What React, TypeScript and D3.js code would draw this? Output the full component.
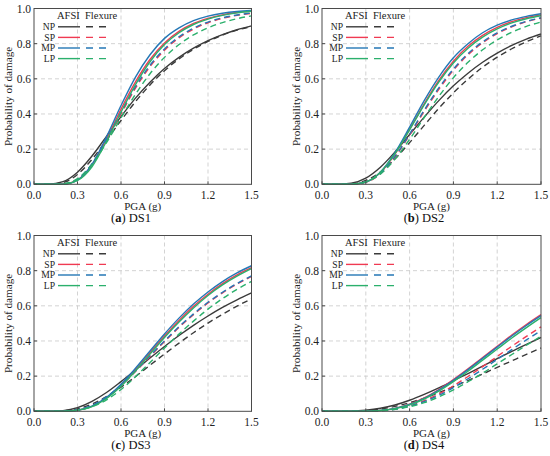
import * as d3 from 'd3';
import React from 'react';

// PGA sample points (g)
const pga = [0, 0.1, 0.2, 0.3, 0.4, 0.5, 0.6, 0.7, 0.8, 0.9, 1.0, 1.1, 1.2, 1.3, 1.4, 1.5];

const xTicks = [0, 0.3, 0.6, 0.9, 1.2, 1.5];
const yTicks = [0, 0.2, 0.4, 0.6, 0.8, 1.0];

const seriesNames = ['NP', 'SP', 'MP', 'LP'];
const seriesColors = ['#3b3b3b', '#f03a52', '#2477b5', '#2bb06c'];

// DS1
const ds1NpAfsi = [0, 0.0004, 0.015, 0.069, 0.161, 0.273, 0.385, 0.49, 0.581, 0.659, 0.722, 0.774, 0.817, 0.851, 0.879, 0.901];
const ds1NpFlex = [0, 0.0002, 0.01, 0.056, 0.142, 0.25, 0.363, 0.47, 0.565, 0.646, 0.713, 0.768, 0.813, 0.849, 0.877, 0.897];
const ds1SpAfsi = [0, 0, 0.001, 0.025, 0.111, 0.258, 0.427, 0.583, 0.71, 0.804, 0.87, 0.915, 0.944, 0.964, 0.977, 0.985];
const ds1SpFlex = [0, 0, 0.002, 0.028, 0.112, 0.248, 0.4, 0.547, 0.669, 0.763, 0.833, 0.883, 0.919, 0.944, 0.961, 0.973];
const ds1MpAfsi = [0, 0, 0.001, 0.024, 0.113, 0.27, 0.448, 0.61, 0.737, 0.83, 0.89, 0.931, 0.957, 0.973, 0.983, 0.989];
const ds1MpFlex = [0, 0, 0.002, 0.03, 0.117, 0.255, 0.41, 0.556, 0.677, 0.77, 0.839, 0.888, 0.923, 0.947, 0.963, 0.975];
const ds1LpAfsi = [0, 0, 0.001, 0.022, 0.1, 0.245, 0.41, 0.567, 0.697, 0.795, 0.862, 0.909, 0.94, 0.961, 0.975, 0.984];
const ds1LpFlex = [0, 0, 0.003, 0.032, 0.113, 0.237, 0.378, 0.512, 0.629, 0.722, 0.795, 0.85, 0.89, 0.92, 0.942, 0.958];

// DS2
const ds2NpAfsi = [0, 0.0001, 0.006, 0.035, 0.097, 0.184, 0.283, 0.382, 0.476, 0.56, 0.632, 0.694, 0.746, 0.79, 0.826, 0.855];
const ds2NpFlex = [0, 0, 0.003, 0.022, 0.07, 0.145, 0.237, 0.335, 0.432, 0.52, 0.598, 0.666, 0.723, 0.771, 0.811, 0.845];
const ds2SpAfsi = [0, 0, 0.001, 0.013, 0.067, 0.172, 0.312, 0.458, 0.591, 0.7, 0.785, 0.847, 0.893, 0.925, 0.948, 0.964];
const ds2SpFlex = [0, 0, 0.001, 0.012, 0.06, 0.155, 0.28, 0.415, 0.54, 0.649, 0.737, 0.805, 0.857, 0.896, 0.925, 0.945];
const ds2MpAfsi = [0, 0, 0.001, 0.013, 0.069, 0.18, 0.325, 0.476, 0.61, 0.72, 0.8, 0.862, 0.905, 0.935, 0.955, 0.97];
const ds2MpFlex = [0, 0, 0.001, 0.013, 0.063, 0.159, 0.286, 0.422, 0.548, 0.656, 0.743, 0.81, 0.861, 0.899, 0.927, 0.947];
const ds2LpAfsi = [0, 0, 0.001, 0.014, 0.069, 0.174, 0.31, 0.452, 0.582, 0.69, 0.774, 0.837, 0.884, 0.918, 0.942, 0.959];
const ds2LpFlex = [0, 0, 0.001, 0.013, 0.058, 0.143, 0.256, 0.38, 0.5, 0.606, 0.694, 0.765, 0.821, 0.865, 0.898, 0.923];

// DS3
const ds3NpAfsi = [0, 0.0001, 0.004, 0.021, 0.057, 0.107, 0.169, 0.235, 0.303, 0.369, 0.431, 0.489, 0.542, 0.591, 0.634, 0.673];
const ds3NpFlex = [0, 0, 0.002, 0.014, 0.041, 0.083, 0.137, 0.197, 0.262, 0.326, 0.388, 0.447, 0.502, 0.552, 0.598, 0.64];
const ds3SpAfsi = [0, 0, 0.0004, 0.006, 0.028, 0.076, 0.148, 0.237, 0.333, 0.428, 0.517, 0.597, 0.666, 0.726, 0.776, 0.817];
const ds3SpFlex = [0, 0, 0.0007, 0.008, 0.033, 0.08, 0.147, 0.226, 0.312, 0.397, 0.477, 0.55, 0.616, 0.674, 0.724, 0.767];
const ds3MpAfsi = [0, 0, 0.0004, 0.006, 0.029, 0.079, 0.154, 0.245, 0.343, 0.44, 0.53, 0.61, 0.679, 0.738, 0.787, 0.828];
const ds3MpFlex = [0, 0, 0.0008, 0.009, 0.034, 0.082, 0.149, 0.229, 0.316, 0.4, 0.481, 0.554, 0.62, 0.677, 0.727, 0.77];
const ds3LpAfsi = [0, 0, 0.0003, 0.006, 0.027, 0.073, 0.143, 0.23, 0.325, 0.42, 0.508, 0.588, 0.659, 0.719, 0.769, 0.811];
const ds3LpFlex = [0, 0, 0.0005, 0.006, 0.026, 0.065, 0.124, 0.197, 0.278, 0.36, 0.439, 0.513, 0.581, 0.641, 0.694, 0.739];

// DS4
const ds4NpAfsi = [0, 0, 0.0009, 0.006, 0.017, 0.036, 0.063, 0.096, 0.133, 0.173, 0.215, 0.257, 0.299, 0.341, 0.381, 0.42];
const ds4NpFlex = [0, 0, 0.0007, 0.004, 0.013, 0.028, 0.049, 0.075, 0.106, 0.14, 0.175, 0.212, 0.25, 0.287, 0.324, 0.36];
const ds4SpAfsi = [0, 0, 0, 0.0008, 0.005, 0.017, 0.04, 0.076, 0.124, 0.18, 0.241, 0.306, 0.37, 0.434, 0.494, 0.55];
const ds4SpFlex = [0, 0, 0, 0.0006, 0.004, 0.013, 0.031, 0.06, 0.098, 0.145, 0.198, 0.254, 0.312, 0.37, 0.426, 0.48];
const ds4MpAfsi = [0, 0, 0, 0.0008, 0.005, 0.017, 0.039, 0.074, 0.121, 0.176, 0.237, 0.301, 0.365, 0.428, 0.488, 0.544];
const ds4MpFlex = [0, 0, 0, 0.0006, 0.0036, 0.012, 0.029, 0.055, 0.091, 0.135, 0.185, 0.239, 0.295, 0.351, 0.406, 0.459];
const ds4LpAfsi = [0, 0, 0, 0.0007, 0.0045, 0.0155, 0.037, 0.07, 0.115, 0.169, 0.228, 0.291, 0.354, 0.417, 0.476, 0.533];
const ds4LpFlex = [0, 0, 0, 0.0005, 0.003, 0.011, 0.026, 0.049, 0.082, 0.122, 0.168, 0.217, 0.27, 0.323, 0.376, 0.427];

const FONT = 'Liberation Serif, Times New Roman, Times, serif';

type PanelDef = {
  letter: string;
  title: string;
  left: number;
  right: number;
  top: number;
  bottom: number;
  captionX: number;
  afsi: number[][];
  flex: number[][];
};

const panels: PanelDef[] = [
  {
    letter: 'a', title: 'DS1', left: 34, right: 251.5, top: 8.5, bottom: 184.3, captionX: 131,
    afsi: [ds1NpAfsi, ds1SpAfsi, ds1MpAfsi, ds1LpAfsi],
    flex: [ds1NpFlex, ds1SpFlex, ds1MpFlex, ds1LpFlex],
  },
  {
    letter: 'b', title: 'DS2', left: 322, right: 541, top: 8.5, bottom: 184.3, captionX: 424,
    afsi: [ds2NpAfsi, ds2SpAfsi, ds2MpAfsi, ds2LpAfsi],
    flex: [ds2NpFlex, ds2SpFlex, ds2MpFlex, ds2LpFlex],
  },
  {
    letter: 'c', title: 'DS3', left: 34, right: 251.5, top: 235.5, bottom: 411.3, captionX: 131,
    afsi: [ds3NpAfsi, ds3SpAfsi, ds3MpAfsi, ds3LpAfsi],
    flex: [ds3NpFlex, ds3SpFlex, ds3MpFlex, ds3LpFlex],
  },
  {
    letter: 'd', title: 'DS4', left: 322, right: 541, top: 235.5, bottom: 411.3, captionX: 424,
    afsi: [ds4NpAfsi, ds4SpAfsi, ds4MpAfsi, ds4LpAfsi],
    flex: [ds4NpFlex, ds4SpFlex, ds4MpFlex, ds4LpFlex],
  },
];

const Panel: React.FC<{ p: PanelDef }> = ({ p }) => {
  const x = d3.scaleLinear().domain([0, 1.5]).range([p.left, p.right]);
  const y = d3.scaleLinear().domain([0, 1]).range([p.bottom, p.top]);
  const line = d3
    .line<number>()
    .x((_, i) => x(pga[i]))
    .y((d) => y(d))
    .curve(d3.curveMonotoneX);
  const fmt = d3.format('.1f');
  const axisColor = '#4a4a4a';
  const gridColor = '#c8c8c8';

  return (
    <g style={{ fontFamily: FONT }}>
      {/* grid */}
      {xTicks.slice(1, -1).map((t) => (
        <line key={'gx' + t} x1={x(t)} x2={x(t)} y1={p.top} y2={p.bottom}
          stroke={gridColor} strokeWidth={0.8} strokeDasharray="4,3" />
      ))}
      {yTicks.slice(1, -1).map((t) => (
        <line key={'gy' + t} x1={p.left} x2={p.right} y1={y(t)} y2={y(t)}
          stroke={gridColor} strokeWidth={0.8} strokeDasharray="4,3" />
      ))}

      {/* curves */}
      {seriesNames.map((name, i) => (
        <g key={name}>
          <path d={line(p.afsi[i]) || ''} fill="none" stroke={seriesColors[i]} strokeWidth={1.4} />
          <path d={line(p.flex[i]) || ''} fill="none" stroke={seriesColors[i]} strokeWidth={1.4}
            strokeDasharray="6,4" />
        </g>
      ))}

      {/* frame and ticks */}
      <rect x={p.left} y={p.top} width={p.right - p.left} height={p.bottom - p.top}
        fill="none" stroke={axisColor} strokeWidth={1} />
      {xTicks.map((t) => (
        <g key={'tx' + t}>
          <line x1={x(t)} x2={x(t)} y1={p.bottom} y2={p.bottom - 3} stroke={axisColor} />
          <text x={x(t)} y={p.bottom + 14.5} textAnchor="middle" fontSize={11.5} fill="#222">
            {fmt(t)}
          </text>
        </g>
      ))}
      {yTicks.map((t) => (
        <g key={'ty' + t}>
          <line x1={p.left} x2={p.left + 3} y1={y(t)} y2={y(t)} stroke={axisColor} />
          <text x={p.left - 3} y={y(t)} dy="0.35em" textAnchor="end" fontSize={11.5} fill="#222">
            {fmt(t)}
          </text>
        </g>
      ))}

      {/* axis titles */}
      <text x={(p.left + p.right) / 2} y={p.bottom + 26} textAnchor="middle" fontSize={11}
        fill="#222">PGA (g)</text>
      <text transform={`translate(${p.left - 22},${(p.top + p.bottom) / 2}) rotate(-90)`}
        textAnchor="middle" fontSize={11.2} fill="#222">Probability of damage</text>

      {/* legend */}
      <text x={p.left + 23} y={p.top + 10.8} fontSize={10.5} fill="#222">AFSI</text>
      <text x={p.left + 51} y={p.top + 10.8} fontSize={10.5} fill="#222">Flexure</text>
      {seriesNames.map((name, i) => {
        const ly = p.top + 18.3 + i * 10.6;
        return (
          <g key={'lg' + name}>
            <text x={p.left + 21} y={ly} dy="0.35em" textAnchor="end" fontSize={9.6}
              fill="#222">{name}</text>
            <line x1={p.left + 24} x2={p.left + 46} y1={ly} y2={ly} stroke={seriesColors[i]} strokeWidth={1.4} />
            <line x1={p.left + 52} x2={p.left + 72} y1={ly} y2={ly} stroke={seriesColors[i]} strokeWidth={1.4}
              strokeDasharray="7,6" />
          </g>
        );
      })}

      {/* caption */}
      <text x={p.captionX} y={p.bottom + 37.5} textAnchor="middle" fontSize={12.5} fill="#111">
        (<tspan fontWeight="bold">{p.letter}</tspan>) {p.title}
      </text>
    </g>
  );
};

export default function App() {
  return (
    <div style={{ position: 'absolute', left: 0, top: 0, background: '#fff' }}>
      <svg width={550} height={456} style={{ display: 'block' }}>
        <rect width={550} height={456} fill="#fff" />
        {panels.map((p) => (
          <Panel key={p.letter} p={p} />
        ))}
      </svg>
    </div>
  );
}
